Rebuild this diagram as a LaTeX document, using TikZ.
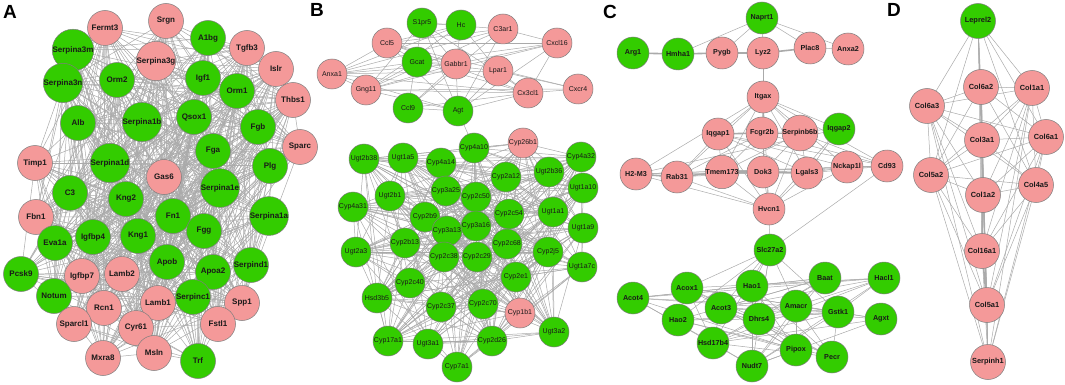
\documentclass[tikz,border=0pt]{standalone}
\usepackage{fontspec}
\setmainfont{Liberation Sans}
\pgfdeclarelayer{edges}
\pgfsetlayers{edges,main}
\definecolor{nodegreen}{RGB}{51,204,0}
\definecolor{nodepink}{RGB}{244,153,153}
\definecolor{edgegray}{RGB}{170,170,170}
\definecolor{rimgray}{RGB}{125,125,125}
\tikzset{
 gene/.style={circle,draw=rimgray,line width=0.5pt,inner sep=0pt,text=black!90},
 nA/.style={gene,minimum size=35pt,font=\fontsize{8}{9}\selectfont\bfseries},
 nB/.style={gene,minimum size=30pt,font=\fontsize{7}{8}\selectfont},
 nC/.style={gene,minimum size=32pt,font=\fontsize{7.2}{8}\selectfont\bfseries},
 nD/.style={gene,minimum size=35pt,font=\fontsize{7.4}{8}\selectfont\bfseries},
 pk/.style={fill=nodepink}, gr/.style={fill=nodegreen},
 edge/.style={draw=edgegray,line width=0.5pt},
 heavy/.style={draw=edgegray,line width=1.6pt},
 panel/.style={font=\fontsize{19}{20}\selectfont\bfseries,inner sep=0pt}
}
\newcount\hcnt
\newcommand\lcgstep{\hcnt=\numexpr\hcnt*75+74\relax\hcnt=\numexpr\hcnt-(\hcnt/65537)*65537\relax\ifnum\hcnt<0 \advance\hcnt by 65537\relax\fi}
\newcommand\randnet[3]{%
 \foreach \ga [count=\ci] in {#1}{%
  \foreach \gb [count=\cj] in {#1}{%
   \ifnum\ci<\cj\relax
    \hcnt=\numexpr\ci*131+\cj*977+#3\relax
    \lcgstep\lcgstep\lcgstep
    \hcnt=\numexpr\hcnt-(\hcnt/100)*100\relax
    \ifnum\hcnt<0 \advance\hcnt by 100\relax\fi
    \ifnum\hcnt<#2\relax\draw[edge] (\ga.center)--(\gb.center);\fi
   \fi
  }%
 }%
}
\begin{document}
\begin{tikzpicture}[x=1pt,y=-1pt]
\useasboundingbox (0,0) rectangle (1065,385);
% panel letters
\node[panel] (labA) at (10,12) {A};
\node[panel] (labB) at (317,10) {B};
\node[panel] (labC) at (610,12) {C};
\node[panel] (labD) at (894,10) {D};
% ---------- Panel A ----------
\foreach \nm/\xx/\yy/\cc in {Fermt3/105/28/pk,Srgn/166/21/pk,A1bg/208/38/gr,Tgfb3/247/48/pk,Islr/276/69/pk,Thbs1/293/100/pk,
 Serpina3m/73/50/gr,Serpina3g/156/61/pk,Serpina3n/63/83/gr,Orm2/117/80/gr,Igf1/203/78/gr,Orm1/237/91/gr,
 Alb/78/123/gr,Serpina1b/142/122/gr,Qsox1/194/117/gr,Fgb/258/127/gr,Timp1/35/163/pk,Serpina1d/110/163/gr,
 Gas6/164/177/pk,Fga/213/151/gr,Plg/270/166/gr,Serpina1e/220/188/gr,Sparc/300/147/pk,C3/70/193/gr,Kng2/126/199/gr,
 Serpina1a/269/216/gr,Fbn1/36/217/pk,Fn1/173/216/gr,Fgg/204/231/gr,Eva1a/55/243/gr,Igfbp4/93/237/gr,Kng1/138/236/gr,
 Pcsk9/21/274/gr,Igfbp7/82/276/pk,Lamb2/122/274/pk,Apob/167/262/gr,Apoa2/213/272/gr,Serpind1/251/265/gr,
 Notum/54/296/gr,Rcn1/104/308/pk,Lamb1/158/303/pk,Serpinc1/193/297/gr,Spp1/242/303/pk,Sparcl1/74/324/pk,
 Cyr61/136/328/pk,Fstl1/218/324/pk,Mxra8/103/358/pk,Msln/154/353/pk,Trf/198/361/gr}
 \node[nA,\cc] (\nm) at (\xx,\yy) {\nm};
% ---------- Panel B ----------
\foreach \nm/\xx/\yy/\cc in {S1pr5/422/23/gr,Hc/461/25/gr,C3ar1/503/29/pk,Ccl5/387/43/pk,Cxcl16/557/43/pk,Gcat/417/62/gr,
 Gabbr1/456/64/pk,Lpar1/498/71/pk,Anxa1/332/74/pk,Cxcr4/578/89/pk,Cx3cl1/528/93/pk,Gng11/366/90/pk,Ccl9/408/108/gr,Agt/458/111/gr,
 Cyp4a10/474/148/gr,Cyp26b1/523/143/pk,Ugt2b38/364/159/gr,Ugt1a5/403/158/gr,Cyp4a14/441/163/gr,Cyp2a12/506/177/gr,
 Ugt2b36/549/172/gr,Cyp4a32/581/157/gr,Ugt2b1/390/196/gr,Cyp3a25/446/191/gr,Cyp2c50/476/197/gr,Cyp4a31/353/207/gr,
 Cyp2b9/425/217/gr,Cyp2c54/509/214/gr,Ugt1a1/553/212/gr,Ugt1a10/583/188/gr,Cyp3a13/447/231/gr,Cyp3a16/476/226/gr,
 Cyp2b13/405/243/gr,Cyp2c68/507/244/gr,Ugt1a9/583/228/gr,Ugt2a3/356/252/gr,Cyp2c38/444/257/gr,Cyp2c29/477/257/gr,
 Cyp2j5/548/252/gr,Ugt1a7c/582/267/gr,Cyp2e1/516/277/gr,Cyp2c40/410/283/gr,Hsd3b5/377/298/gr,Cyp2c37/441/307/gr,
 Cyp2c70/483/304/gr,Cyp1b1/520/313/pk,Ugt3a2/554/332/gr,Cyp17a1/388/341/gr,Ugt3a1/428/344/gr,Cyp2d26/492/341/gr,Cyp7a1/457/367/gr}
 \node[nB,\cc] (\nm) at (\xx,\yy) {\nm};
% ---------- Panel C ----------
\foreach \nm/\xx/\yy/\cc in {Naprt1/762/18/gr,Arg1/633/53/gr,Hmha1/678/54/gr,Pygb/722/53/pk,Lyz2/763/53/pk,Plac8/810/48/pk,
 Anxa2/848/49/pk,Itgax/763/97/pk,Iqgap1/718/134/pk,Fcgr2b/762/133/pk,Serpinb6b/800/133/pk,Iqgap2/839/129/gr,
 Rab31/677/177/pk,Tmem173/722/172/pk,Dok3/763/172/pk,Lgals3/807/173/pk,Nckap1l/847/167/pk,Cd93/887/166/pk,
 Hvcn1/769/209/pk,Slc27a2/770/250/gr,Acot4/633/298/gr,Acox1/687/288/gr,Hao1/752/286/gr,Baat/825/278/gr,Hacl1/884/278/gr,
 Acot3/721/308/gr,Amacr/796/306/gr,Gstk1/838/312/gr,Agxt/881/319/gr,Dhrs4/759/319/gr,Hao2/678/320/gr,Hsd17b4/713/343/gr,
 Pipox/796/350/gr,Pecr/832/357/gr,Nudt7/752/366/gr}
 \node[nC,\cc] (\nm) at (\xx,\yy) {\nm};
\node[nC,pk] (H2M3) at (636,174) {H2-M3};
% ---------- Panel D ----------
\foreach \nm/\xx/\yy/\cc in {Leprel2/978/21/gr,Col6a2/981/87/pk,Col1a1/1032/88/pk,Col6a3/927/106/pk,Col3a1/982/140/pk,
 Col6a1/1046/137/pk,Col5a2/931/175/pk,Col4a5/1036/185/pk,Col1a2/983/195/pk,Col16a1/982/251/pk,Col5a1/987/305/pk,Serpinh1/988/362/pk}
 \node[nD,\cc] (\nm) at (\xx,\yy) {\nm};
% ---------- edges ----------
\begin{pgfonlayer}{edges}
\randnet{Fermt3,Srgn,A1bg,Tgfb3,Islr,Thbs1,Serpina3m,Serpina3g,Serpina3n,Orm2,Igf1,Orm1,Alb,Serpina1b,Qsox1,Fgb,Timp1,Serpina1d,Gas6,Fga,Plg,Serpina1e,Sparc,C3,Kng2,Serpina1a,Fbn1,Fn1,Fgg,Eva1a,Igfbp4,Kng1,Pcsk9,Igfbp7,Lamb2,Apob,Apoa2,Serpind1,Notum,Rcn1,Lamb1,Serpinc1,Spp1,Sparcl1,Cyr61,Fstl1,Mxra8,Msln,Trf}{55}{7}
\randnet{S1pr5,Hc,C3ar1,Ccl5,Cxcl16,Gcat,Gabbr1,Lpar1,Anxa1,Cxcr4,Cx3cl1,Gng11,Ccl9,Agt}{50}{3}
\randnet{Cyp4a10,Cyp26b1,Ugt2b38,Ugt1a5,Cyp4a14,Cyp2a12,Ugt2b36,Cyp4a32,Ugt2b1,Cyp3a25,Cyp2c50,Cyp4a31,Cyp2b9,Cyp2c54,Ugt1a1,Ugt1a10,Cyp3a13,Cyp3a16,Cyp2b13,Cyp2c68,Ugt1a9,Ugt2a3,Cyp2c38,Cyp2c29,Cyp2j5,Ugt1a7c,Cyp2e1,Cyp2c40,Hsd3b5,Cyp2c37,Cyp2c70,Cyp1b1,Ugt3a2,Cyp17a1,Ugt3a1,Cyp2d26,Cyp7a1}{55}{11}
\draw[edge] (Agt.center)--(Cyp4a10.center);
% C top row
\draw[heavy] (Arg1.center)--(Hmha1.center);
\draw[heavy] (Hmha1.center)--(Pygb.center);
\draw[heavy] (Pygb.center)--(Lyz2.center);
\draw[heavy] (Lyz2.center)--(Plac8.center);
\draw[edge] (Plac8.center)--(Anxa2.center);
\foreach \tg in {Hmha1,Pygb,Lyz2,Plac8,Anxa2} \draw[edge] (Naprt1.center)--(\tg.center);
\draw[edge] (Lyz2.center)--(Itgax.center);
% C middle
\randnet{Iqgap1,Fcgr2b,Serpinb6b,Iqgap2,H2M3,Rab31,Tmem173,Dok3,Lgals3,Nckap1l,Cd93}{50}{5}
\foreach \tg in {Iqgap1,Fcgr2b,Serpinb6b,Iqgap2,H2M3,Rab31,Tmem173,Dok3,Lgals3,Nckap1l,Cd93,Hvcn1} \draw[edge] (Itgax.center)--(\tg.center);
\foreach \tg in {Iqgap1,Fcgr2b,Serpinb6b,Iqgap2,H2M3,Rab31,Tmem173,Dok3,Lgals3,Nckap1l} \draw[edge] (Hvcn1.center)--(\tg.center);
\draw[heavy] (H2M3.center)--(Rab31.center);
\draw[heavy] (Rab31.center)--(Tmem173.center);
\draw[heavy] (Tmem173.center)--(Dok3.center);
\draw[heavy] (Dok3.center)--(Lgals3.center);
\draw[heavy] (Iqgap1.center)--(Fcgr2b.center);
\draw[edge] (Hvcn1.center)--(Slc27a2.center);
\draw[edge] (Cd93.center)--(Slc27a2.center);
% C bottom
\randnet{Slc27a2,Acot4,Acox1,Hao1,Baat,Hacl1,Acot3,Amacr,Gstk1,Agxt,Dhrs4,Hao2,Hsd17b4,Pipox,Pecr,Nudt7}{55}{9}
% D
\randnet{Leprel2,Col6a2,Col1a1,Col6a3,Col3a1,Col6a1,Col5a2,Col4a5,Col1a2,Col16a1,Col5a1,Serpinh1}{100}{1}
\draw[heavy] (Col6a2.center)--(Col3a1.center)--(Col1a2.center)--(Col16a1.center)--(Col5a1.center);
\end{pgfonlayer}
\end{tikzpicture}
\end{document}
